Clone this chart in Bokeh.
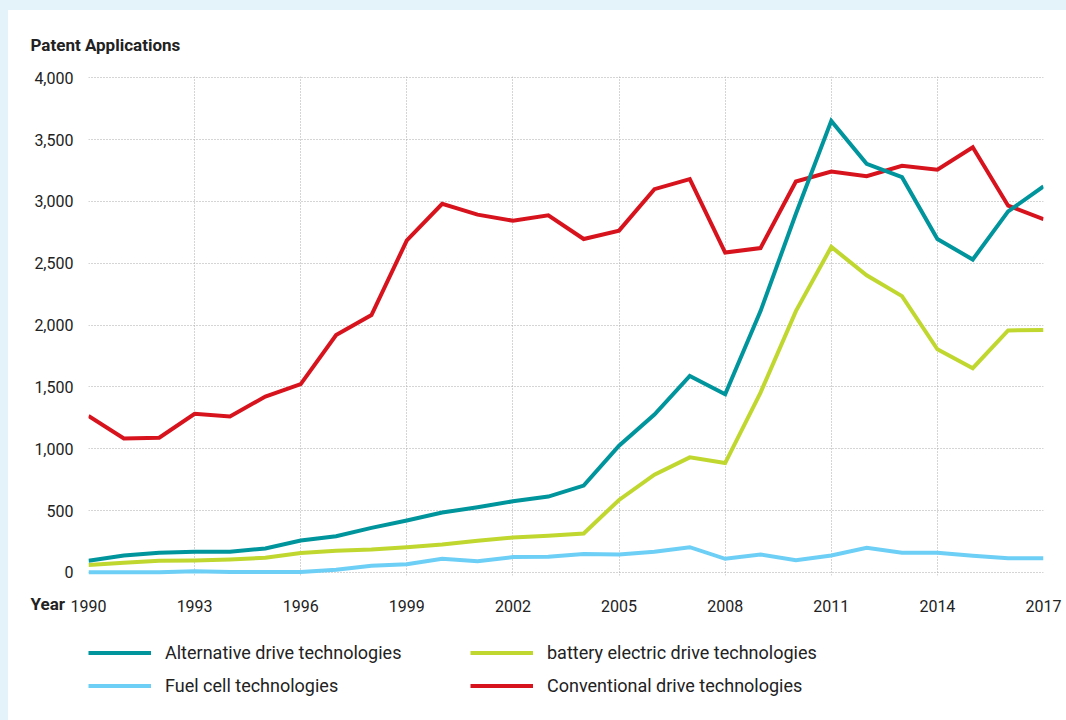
from bokeh.plotting import figure
from bokeh.layouts import column
from bokeh.models import (FixedTicker, NumeralTickFormatter, Legend,
                          LegendItem, Range1d, Title)
from bokeh.embed import file_html
from bokeh.resources import INLINE

years = list(range(1990, 2018))
alternative = [94, 137, 159, 167, 167, 194, 258, 293, 360, 420,
               484, 527, 575, 613, 702, 1024, 1277, 1589, 1441, 2113,
               2900, 3651, 3304, 3196, 2696, 2530, 2919, 3121]
battery = [59, 78, 94, 97, 105, 118, 156, 175, 185, 204,
           226, 256, 282, 296, 315, 586, 790, 930, 884, 1454,
           2113, 2632, 2403, 2234, 1804, 1651, 1957, 1960]
fuel_cell = [2, 2, 2, 10, 4, 4, 4, 22, 54, 66,
             110, 91, 124, 127, 148, 145, 167, 204, 110, 145,
             99, 137, 199, 159, 159, 135, 115, 115]
conventional = [1266, 1083, 1089, 1282, 1261, 1422, 1522, 1919, 2081, 2685,
                2981, 2893, 2844, 2887, 2696, 2764, 3099, 3180, 2586, 2623,
                3161, 3242, 3204, 3288, 3256, 3438, 2965, 2857]

series_names = ["Alternative drive technologies", "battery electric drive technologies",
                "Fuel cell technologies", "Conventional drive technologies"]
series_colors = ["#00949d", "#c0d72f", "#6dcff6", "#d7141e"]
series_values = [alternative, battery, fuel_cell, conventional]
x_ticks = list(range(1990, 2018, 3))
y_ticks = list(range(0, 4001, 500))

FONT = "Roboto"
TXT = "#222222"

# ---------------- main chart ----------------
p = figure(width=1058, height=620, output_backend="svg", toolbar_location=None,
           x_range=Range1d(1990, 2017), y_range=Range1d(-25, 4010),
           min_border_left=80, min_border_right=23, min_border_top=66,
           min_border_bottom=55, outline_line_color=None,
           background_fill_color="white", border_fill_color="white")

p.title = Title(text="Patent Applications", align="left", offset=-58, standoff=44,
                text_font=FONT, text_font_size="17px", text_font_style="bold",
                text_color=TXT)

# drawing order: conventional, fuel cell, battery, alternative (on top)
for i in (3, 2, 1, 0):
    p.line(years, series_values[i], line_color=series_colors[i], line_width=4,
           line_join="miter")

for ax in (p.xaxis[0], p.yaxis[0]):
    ax.axis_line_color = None
    ax.major_tick_line_color = None
    ax.minor_tick_line_color = None
    ax.major_tick_out = 0
    ax.major_tick_in = 0
    ax.minor_tick_out = 0
    ax.minor_tick_in = 0
    ax.major_label_text_font = FONT
    ax.major_label_text_font_size = "16px"
    ax.major_label_text_color = TXT

p.xaxis.ticker = FixedTicker(ticks=x_ticks)
p.yaxis.ticker = FixedTicker(ticks=y_ticks)
p.yaxis.formatter = NumeralTickFormatter(format="0,0")
p.xaxis.major_label_standoff = 24
p.yaxis.major_label_standoff = 15

for g in (p.xgrid[0], p.ygrid[0]):
    g.grid_line_color = "#ababab"
    g.grid_line_dash = "1 2"
    g.grid_line_width = 1
p.xgrid.ticker = FixedTicker(ticks=x_ticks)
p.ygrid.ticker = FixedTicker(ticks=y_ticks)

p.add_layout(Title(text="Year", align="left", offset=-58, standoff=-41,
                   vertical_align="top", text_font=FONT, text_font_size="17px",
                   text_font_style="bold", text_color=TXT), "below")

# ---------------- legend strip ----------------
lg = figure(width=1058, height=90, output_backend="svg", toolbar_location=None,
            x_range=Range1d(0, 1), y_range=Range1d(0, 1),
            x_axis_type=None, y_axis_type=None,
            min_border_left=80, min_border_right=23, min_border_top=0,
            min_border_bottom=0, outline_line_color=None,
            background_fill_color="white", border_fill_color="white")
lg.grid.visible = False
# legend proxies: same series, outside this strip's visible range
proxies = [lg.line(years, v, line_color=c, line_width=4)
           for v, c in zip(series_values, series_colors)]

order = [0, 2, 1, 3]  # legend fills column-wise
legend = Legend(items=[LegendItem(label=series_names[i], renderers=[proxies[i]])
                       for i in order],
                ncols=2, location=(0, 23), glyph_width=63, glyph_height=23,
                label_height=23, label_width=295, label_standoff=14, spacing=10,
                padding=0, margin=0, border_line_color=None,
                background_fill_alpha=0, label_text_font=FONT,
                label_text_font_size="18px", label_text_color=TXT)
lg.add_layout(legend, "center")

html = file_html(column(p, lg, spacing=0), INLINE)
css = ("<style>html,body{margin:0 !important;background:"
       "linear-gradient(#e4f2fa 10px, rgba(255,255,255,0) 10px),"
       "linear-gradient(to right, #e4f2fa 8px, #ffffff 8px) !important;}"
       "body{padding:10px 0 0 8px !important;box-sizing:border-box;}</style></head>")
html = html.replace("</head>", css, 1)
open("out.html", "w").write(html)
